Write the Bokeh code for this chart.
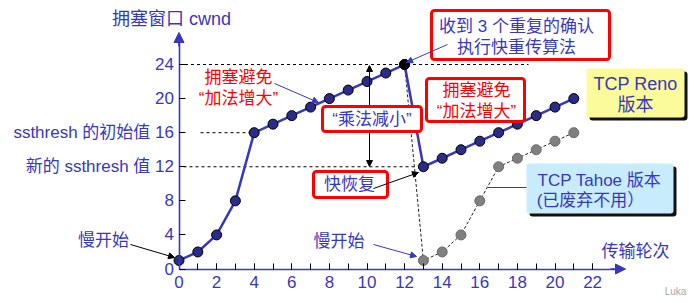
from bokeh.plotting import figure
from bokeh.models import (Range1d, LinearAxis, FixedTicker, Label, BoxAnnotation,
                          Arrow, NormalHead)
from bokeh.embed import file_html
from bokeh.resources import INLINE

# ---------------- data ----------------
rounds = list(range(22))
cwnd_reno = [1, 2, 4, 8, 16, 17, 18, 19, 20, 21, 22, 23, 24,
             12, 13, 14, 15, 16, 17, 18, 19, 20]
tahoe_rounds = [12, 13, 14, 15, 16, 17, 18, 19, 20, 21]
cwnd_tahoe = [24, 1, 2, 4, 8, 12, 13, 14, 15, 16]
peak_round = 12
peak_cwnd = 24
ssthresh_init = 16
ssthresh_new = 12
x_ticks = [0, 2, 4, 6, 8, 10, 12, 14, 16, 18, 20, 22]
x_minor_ticks = list(range(23))
y_ticks = [0, 4, 8, 12, 16, 20, 24]
y_tick_labels = {16: "ssthresh 的初始值 16", 12: "新的 ssthresh 值 12"}

# ---------------- layout helpers ----------------
W, H = 695, 303
X0, SX = 178.5, 18.8
Y0, SY = 268.5, 8.52


def dx(px):
    return (px - X0) / SX


def dy(py):
    return (Y0 - py) / SY


BLUE = "#3838bc"
RED = "#ff0000"
FONT = "Liberation Sans, Noto Sans CJK SC"

p = figure(width=W, height=H, x_range=Range1d(dx(0), dx(W)), y_range=Range1d(dy(H), dy(0)),
           min_border=0, x_axis_type=None, y_axis_type=None, output_backend="svg",
           toolbar_location=None)
p.outline_line_color = None
p.background_fill_color = "white"

# axes
xaxis = LinearAxis(ticker=FixedTicker(ticks=x_ticks, minor_ticks=x_minor_ticks),
                   fixed_location=0, bounds=(0, dx(616)))
yaxis = LinearAxis(ticker=FixedTicker(ticks=y_ticks), fixed_location=0,
                   bounds=(0, dy(40)), major_label_overrides=y_tick_labels)
for ax in (xaxis, yaxis):
    ax.axis_line_color = BLUE
    ax.axis_line_width = 1.6
    ax.major_tick_line_color = "black"
    ax.minor_tick_line_color = "black"
    ax.major_tick_in = 6
    ax.major_tick_out = 0
    ax.minor_tick_in = 6
    ax.minor_tick_out = 0
    ax.major_label_text_color = BLUE
    ax.major_label_text_font = FONT
    ax.major_label_text_font_size = "17px"
xaxis.major_label_standoff = 7
yaxis.major_label_standoff = 5
p.add_layout(xaxis, "below")
p.add_layout(yaxis, "left")

# axis arrow heads
p.add_layout(Arrow(x_start=0, y_start=dy(46), x_end=0, y_end=dy(32),
                   line_color=BLUE, line_width=1.6,
                   end=NormalHead(size=10, fill_color=BLUE, line_color=BLUE)))
p.add_layout(Arrow(x_start=dx(610), y_start=0, x_end=dx(625), y_end=0,
                   line_color=BLUE, line_width=1.6,
                   end=NormalHead(size=10, fill_color=BLUE, line_color=BLUE)))

# guide dashed lines
p.segment(x0=[0, dx(200), dx(183)], y0=[peak_cwnd, ssthresh_init, ssthresh_new],
          x1=[dx(528), 4, dx(417)], y1=[peak_cwnd, ssthresh_init, ssthresh_new],
          line_color="black", line_width=1, line_dash="3 3")

# Tahoe
p.line(tahoe_rounds, cwnd_tahoe, line_color="#222222", line_width=1, line_dash="3 2")
p.scatter(tahoe_rounds[1:], cwnd_tahoe[1:], size=10, fill_color="#808080",
          line_color="#6a6a6a", line_width=1)

# Reno
p.line(rounds, cwnd_reno, line_color=BLUE, line_width=2.5)
p.scatter(rounds, cwnd_reno, size=10, fill_color="#2c2c88", line_color="black", line_width=1)
p.scatter([peak_round], [peak_cwnd], size=10, fill_color="black", line_color="black")


def label(text, px, py, color=BLUE, size="17px"):
    p.add_layout(Label(x=dx(px), y=dy(py), text=text, text_align="center",
                       text_baseline="middle", text_color=color, text_font=FONT,
                       text_font_size=size))


def box(l, r, t, b, fill, line=None, lw=3):
    p.add_layout(BoxAnnotation(left=dx(l), right=dx(r), top=dy(t), bottom=dy(b),
                               fill_color=fill, fill_alpha=1,
                               line_color=line, line_alpha=1 if line else 0,
                               line_width=lw, border_radius=3))


def arrow(x1, y1, x2, y2, color="black", head=True):
    end = NormalHead(size=6, fill_color=color, line_color=color) if head else None
    p.add_layout(Arrow(x_start=dx(x1), y_start=dy(y1), x_end=dx(x2), y_end=dy(y2),
                       line_color=color, line_width=1, end=end))


# title of y axis
label("拥塞窗口 cwnd", 171, 18, size="18px")

# left congestion avoidance
label("拥塞避免", 238, 77, color=RED)
label("“加法增大”", 238, 98, color=RED)
arrow(274, 83, 318, 102, color=BLUE)

# multiplicative decrease
arrow(369, 120, 369, 65)
arrow(369, 120, 369, 166)
box(322, 421, 106, 131, "white", RED)
label("“乘法减小”", 371.5, 119)

# triple dup ack
box(431, 609, 10, 59, "white", RED)
label("收到 3 个重复的确认", 516, 26)
label("执行快重传算法", 516, 47)
arrow(447, 44, 406, 62, color=BLUE)

# right congestion avoidance
box(426, 524, 78, 121, "white", RED)
label("拥塞避免", 476, 90, color=RED)
label("“加法增大”", 476, 111, color=RED)

# Reno box
box(589, 687, 71, 120, "#111111")
box(586, 684, 68, 117, "#fbfb9c")
label("TCP Reno", 635, 83, size="18px")
label("版本", 635, 104, size="18px")

# Tahoe box
arrow(487, 187, 535, 187, color=BLUE, head=False)
box(529, 676, 166, 216, "#111111")
box(526, 673, 163, 213, "#c8ecfb")
label("TCP Tahoe 版本", 599, 180)
label("(已废弃不用）", 590, 200)

# fast recovery
box(313, 387, 171, 197, "white", RED)
label("快恢复", 349, 184)
arrow(373, 188, 418, 172)

# slow starts
label("慢开始", 103, 240)
arrow(130, 244, 174, 257)
label("慢开始", 338.5, 241)
arrow(373, 244, 416, 256, color=BLUE)

label("传输轮次", 635, 251)
label("Luka", 675, 291, color="#a8a8a8", size="10px")

open("out.html", "w").write(file_html(p, INLINE))
